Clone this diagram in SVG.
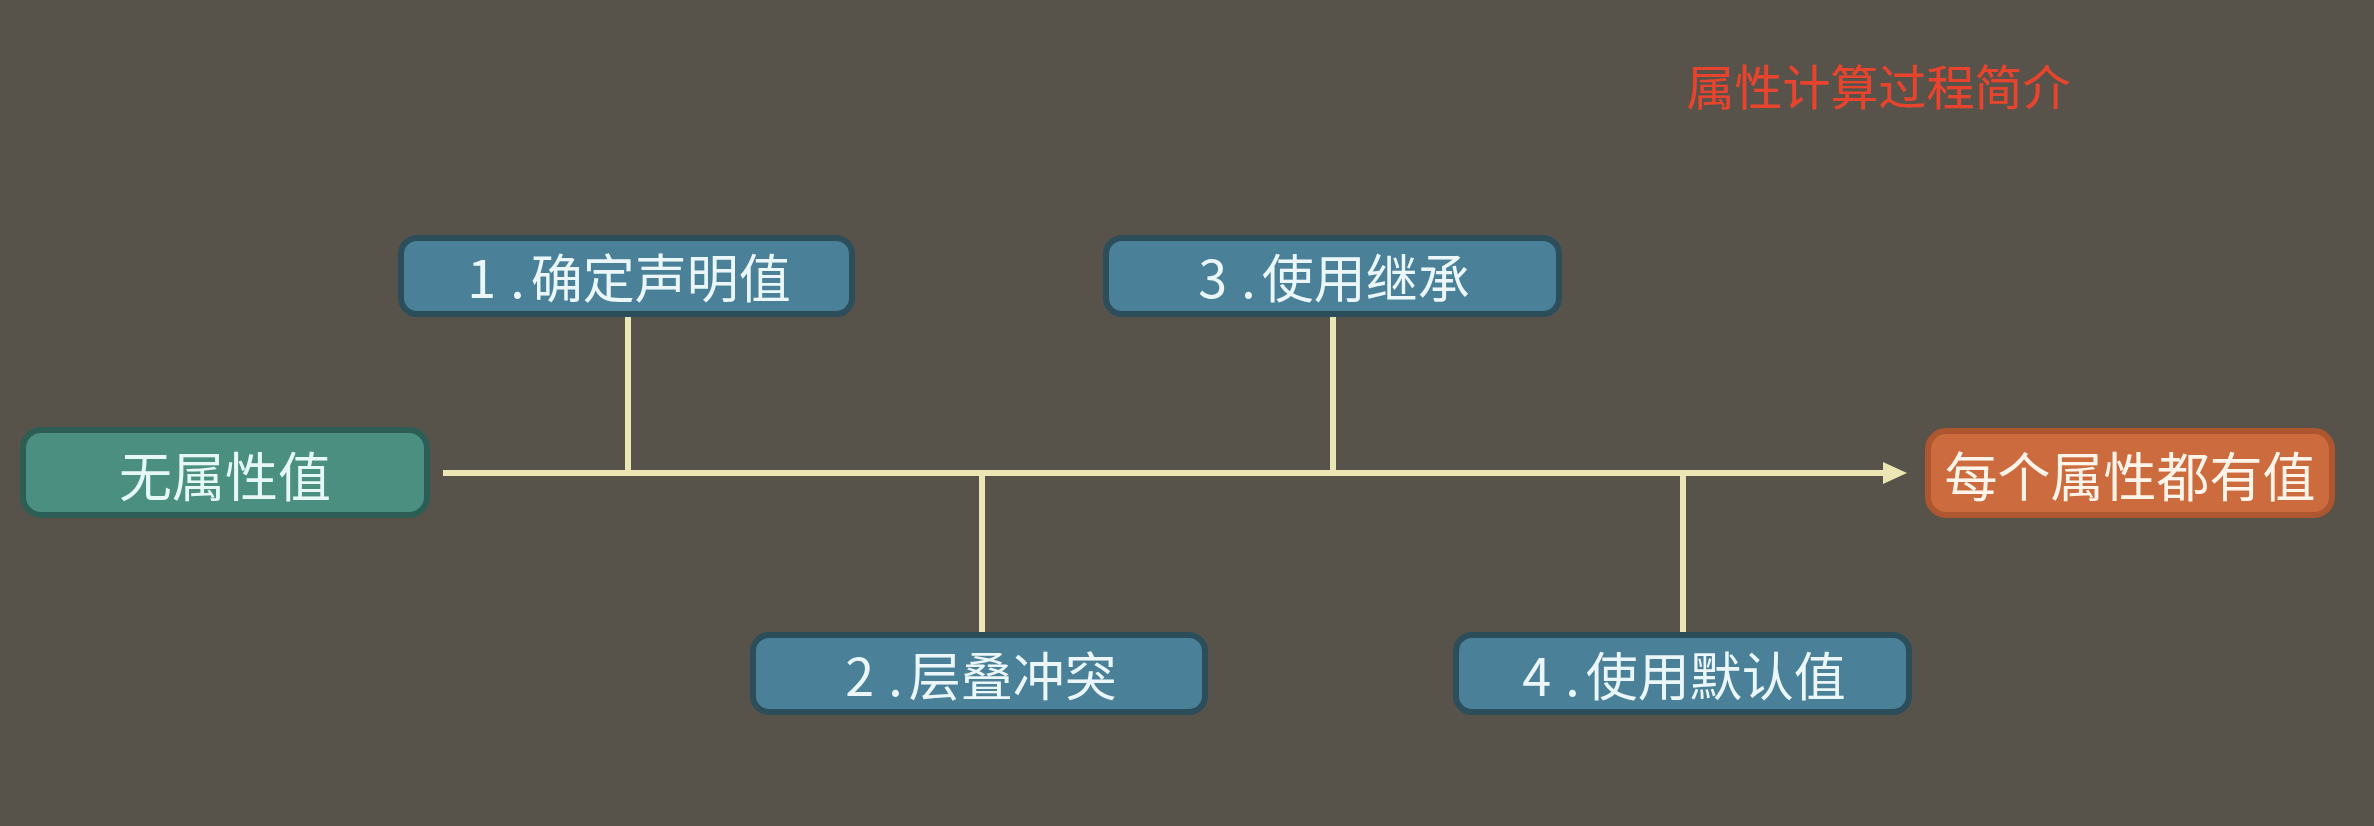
<svg xmlns="http://www.w3.org/2000/svg" width="2374" height="826" viewBox="0 0 2374 826">
  <defs>
    <style>
      .lbl { font-family: "Noto Sans CJK SC", "Noto Sans", sans-serif; text-anchor: middle; }
      .step rect { fill: #4a8199; stroke: #2c4d5a; stroke-width: 6; }
      .step text { fill: #eaf6f8; font-size: 52px; }
      .num { letter-spacing: 14px; }
      .dot { letter-spacing: 6px; }
      .conn { stroke: #ebe6b4; stroke-width: 6; fill: none; }
    </style>
    <marker id="arrow" viewBox="0 0 24 22" refX="2" refY="11" markerWidth="24" markerHeight="22" markerUnits="userSpaceOnUse" orient="auto">
      <path d="M0,0 L24,11 L0,22 Z" fill="#ebe6b4"/>
    </marker>
  </defs>
  <rect x="0" y="0" width="2374" height="826" fill="#57534a"/>
  <text class="lbl" x="1878" y="105" font-size="48" fill="#e8432c">属性计算过程简介</text>

  <g id="connectors">
    <line class="conn" x1="443" y1="473" x2="1885" y2="473" marker-end="url(#arrow)"/>
    <line class="conn" x1="628" y1="317" x2="628" y2="473"/>
    <line class="conn" x1="982" y1="473" x2="982" y2="632"/>
    <line class="conn" x1="1333" y1="317" x2="1333" y2="473"/>
    <line class="conn" x1="1683" y1="473" x2="1683" y2="632"/>
  </g>

  <g id="start">
    <rect x="23" y="430" width="404" height="85" rx="18" fill="#4a8f80" stroke="#2d5e55" stroke-width="6"/>
    <text class="lbl" x="225" y="497" font-size="53" fill="#e6f8f6">无属性值</text>
  </g>
  <g id="step1" class="step">
    <rect x="401" y="238" width="451" height="76" rx="16"/>
    <text class="lbl" x="629" y="298"><tspan class="num">1</tspan><tspan class="dot">.</tspan>确定声明值</text>
  </g>
  <g id="step2" class="step">
    <rect x="753" y="635" width="452" height="77" rx="16"/>
    <text class="lbl" x="981" y="696"><tspan class="num">2</tspan><tspan class="dot">.</tspan>层叠冲突</text>
  </g>
  <g id="step3" class="step">
    <rect x="1106" y="238" width="453" height="76" rx="16"/>
    <text class="lbl" x="1334" y="298"><tspan class="num">3</tspan><tspan class="dot">.</tspan>使用继承</text>
  </g>
  <g id="step4" class="step">
    <rect x="1456" y="635" width="453" height="77" rx="16"/>
    <text class="lbl" x="1684" y="696"><tspan class="num">4</tspan><tspan class="dot">.</tspan>使用默认值</text>
  </g>
  <g id="end">
    <rect x="1928" y="431" width="404" height="84" rx="18" fill="#cc6c3e" stroke="#ad5630" stroke-width="6"/>
    <text class="lbl" x="2130" y="497" font-size="53" fill="#fff4ea">每个属性都有值</text>
  </g>
</svg>
